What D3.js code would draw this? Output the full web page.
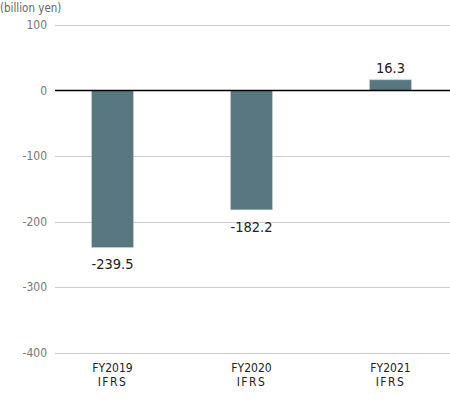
<!DOCTYPE html>
<html>
<head>
<meta charset="utf-8">
<script src="https://cdn.jsdelivr.net/npm/d3@7"></script>
<style>
  body { margin: 0; background: #fff; }
  svg { display: block; font-family: "DejaVu Sans Condensed", "Liberation Sans Narrow", "Roboto Condensed", sans-serif; }
</style>
</head>
<body>
<svg id="chart" width="450" height="400"></svg>
<script>
const categories = ["FY2019", "FY2020", "FY2021"];
const subLabels = ["IFRS", "IFRS", "IFRS"];
const values = [-239.5, -182.2, 16.3];
const valueLabels = ["-239.5", "-182.2", "16.3"];
const yTicks = [100, 0, -100, -200, -300, -400];
const unitLabel = "(billion yen)";

const svg = d3.select("#chart");
const x = d3.scaleBand().domain(categories).range([43, 460]).paddingInner(0.7).paddingOuter(0.35);
const y = d3.scaleLinear().domain([-400, 100]).range([352.5, 25]);

// gridlines
svg.append("g").selectAll("line").data(yTicks.filter(d => d !== 0)).join("line")
  .attr("x1", 55).attr("x2", 450)
  .attr("y1", d => Math.round(y(d)) + 0.5).attr("y2", d => Math.round(y(d)) + 0.5)
  .attr("stroke", "#cccccc").attr("stroke-width", 1);

// tick labels
svg.append("g").selectAll("text").data(yTicks).join("text")
  .attr("x", 47).attr("y", d => y(d)).attr("dy", "0.35em")
  .attr("text-anchor", "end").attr("font-size", 12).attr("fill", "#777")
  .text(d => d);

svg.append("text").attr("x", 0).attr("y", 12).attr("font-size", 11.5).attr("fill", "#666").text(unitLabel);

// bars
svg.append("g").selectAll("rect").data(values).join("rect")
  .attr("x", (d, i) => x(categories[i]))
  .attr("width", x.bandwidth())
  .attr("y", d => y(Math.max(0, d)))
  .attr("height", d => Math.abs(y(d) - y(0)))
  .attr("fill", "#587780").attr("stroke", "#b8c8cc").attr("stroke-width", 0.6);

// zero line
svg.append("line").attr("x1", 55).attr("x2", 450)
  .attr("y1", Math.round(y(0)) + 0.5).attr("y2", Math.round(y(0)) + 0.5)
  .attr("stroke", "#000").attr("stroke-width", 1.3);

// value labels
svg.append("g").selectAll("text").data(values).join("text")
  .attr("x", (d, i) => x(categories[i]) + x.bandwidth() / 2)
  .attr("y", d => d < 0 ? y(d) + 17 : y(d) - 12)
  .attr("dy", "0.35em")
  .attr("text-anchor", "middle").attr("font-size", 14.5).attr("fill", "#222")
  .text((d, i) => valueLabels[i]);

// category labels
const cat = svg.append("g").selectAll("text").data(categories).join("text")
  .attr("x", d => x(d) + x.bandwidth() / 2)
  .attr("text-anchor", "middle").attr("font-size", 12).attr("fill", "#222");
cat.append("tspan").attr("x", d => x(d) + x.bandwidth() / 2).attr("y", 372).text(d => d);
cat.append("tspan").attr("x", d => x(d) + x.bandwidth() / 2).attr("y", 386).attr("letter-spacing", 1.5).text((d, i) => subLabels[i]);
</script>
</body>
</html>
